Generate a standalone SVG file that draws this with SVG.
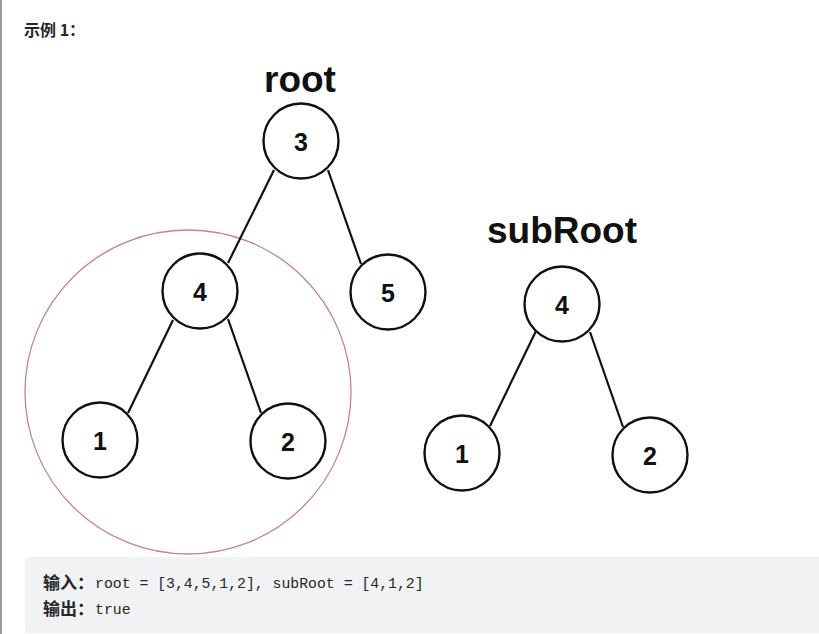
<svg xmlns="http://www.w3.org/2000/svg" width="819" height="634" viewBox="0 0 819 634">
<style>
.node circle{fill:#fff;stroke:#111;stroke-width:2.4}
.node text{font-family:"Liberation Sans",Arial,sans-serif;font-weight:bold;font-size:25px;fill:#111;text-anchor:middle;dominant-baseline:central}
.edge{stroke:#111;stroke-width:2.2;fill:none}
.title{font-family:"Liberation Sans",Arial,sans-serif;font-weight:bold;font-size:37px;fill:#111}
.cjk{font-family:"Noto Sans CJK SC","Liberation Sans",sans-serif;font-weight:bold;fill:#262626}
.mono{font-family:"Liberation Mono","DejaVu Sans Mono",monospace;font-size:14.8px;fill:#262626}
</style>
<rect x="0" y="0" width="819" height="634" fill="#fff"/>
<rect x="0" y="0" width="2" height="634" fill="#9a9a9a"/>
<text class="cjk" x="24" y="36" font-size="16">示例 1：</text>
<text class="title" x="264" y="92">root</text>
<text class="title" x="487" y="243">subRoot</text>
<ellipse id="highlight" cx="188" cy="392" rx="163" ry="162" fill="none" stroke="#c48585" stroke-width="1.3"/>
<g id="connectors">
<line class="edge" x1="274" y1="170" x2="228" y2="263"/>
<line class="edge" x1="328" y1="170" x2="361" y2="264"/>
<line class="edge" x1="173" y1="320" x2="128" y2="413"/>
<line class="edge" x1="228" y1="319" x2="261" y2="413"/>
<line class="edge" x1="536" y1="331" x2="490" y2="426"/>
<line class="edge" x1="590" y1="332" x2="623" y2="427"/>
</g>
<g id="n3" class="node"><circle cx="301" cy="141" r="37.5"/><text x="301" y="142">3</text></g>
<g id="n4" class="node"><circle cx="200" cy="291" r="37.5"/><text x="200" y="292">4</text></g>
<g id="n5" class="node"><circle cx="388" cy="292" r="37.5"/><text x="388" y="293">5</text></g>
<g id="n1" class="node"><circle cx="100" cy="440" r="37.5"/><text x="100" y="441">1</text></g>
<g id="n2" class="node"><circle cx="288" cy="441" r="37.5"/><text x="288" y="442">2</text></g>
<g id="s4" class="node"><circle cx="562" cy="304" r="37.5"/><text x="562" y="305">4</text></g>
<g id="s1" class="node"><circle cx="462" cy="453" r="37.5"/><text x="462" y="454">1</text></g>
<g id="s2" class="node"><circle cx="650" cy="455" r="37.5"/><text x="650" y="456">2</text></g>
<rect x="25" y="557" width="800" height="76" rx="4" fill="#f1f2f4"/>
<text class="cjk" x="43" y="589" font-size="17">输入：</text>
<text class="mono" x="95" y="588">root = [3,4,5,1,2], subRoot = [4,1,2]</text>
<text class="cjk" x="43" y="615" font-size="17">输出：</text>
<text class="mono" x="95" y="614">true</text>
</svg>
